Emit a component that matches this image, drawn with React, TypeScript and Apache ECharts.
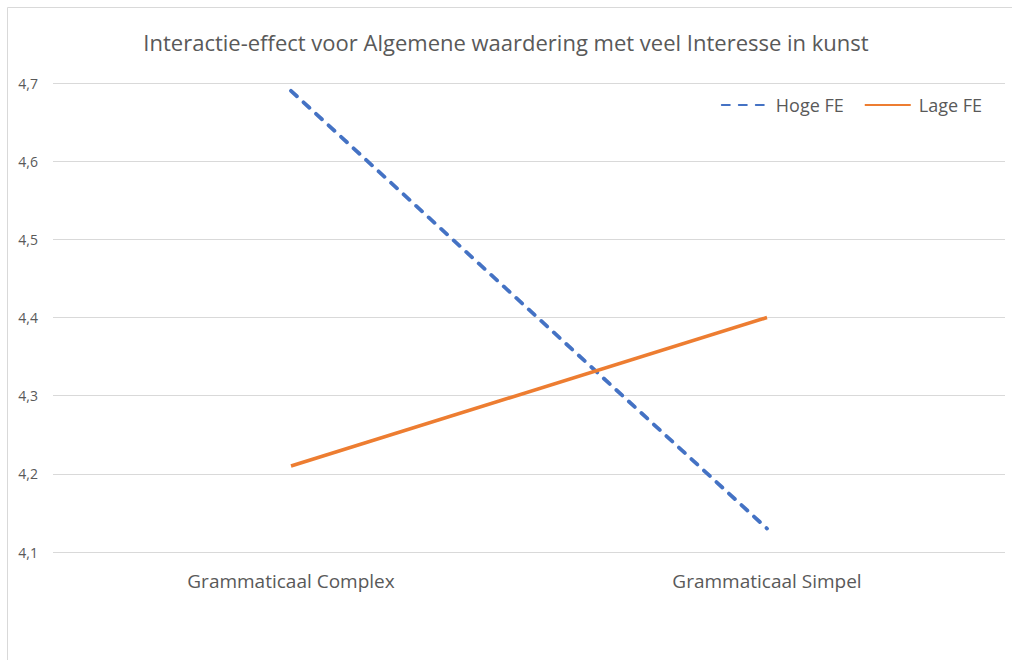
import React, { useEffect, useRef } from "react";
import * as echarts from "echarts";

const title = "Interactie-effect voor Algemene waardering met veel Interesse in kunst";
const categories = ["Grammaticaal Complex", "Grammaticaal Simpel"];
const hogeFE = [4.69, 4.13];
const lageFE = [4.21, 4.4];
const seriesNames = ["Hoge FE", "Lage FE"];

export default function App() {
  const ref = useRef<HTMLDivElement>(null);
  useEffect(() => {
    const chart = echarts.init(ref.current!, null, { renderer: "svg" });
    const font = "Open Sans";
    chart.setOption({
      animation: false,
      backgroundColor: "#ffffff",
      title: {
        text: title,
        left: "center",
        top: 26,
        textStyle: { fontFamily: font, fontSize: 22, fontWeight: "normal", color: "#595959" },
      },
      legend: {
        right: 25,
        top: 91,
        itemWidth: 46,
        itemHeight: 14,
        itemGap: 20,
        itemStyle: { opacity: 0 },
        textStyle: { fontFamily: font, fontSize: 18, color: "#595959", padding: [0, 0, 0, 3] },
        data: seriesNames,
      },
      grid: { left: 53, right: 7, top: 83, bottom: 108 },
      xAxis: {
        type: "category",
        data: categories,
        axisLine: { show: false },
        axisTick: { show: false },
        axisLabel: { fontFamily: font, fontSize: 19, color: "#595959", margin: 19 },
      },
      yAxis: {
        type: "value",
        min: 4.1,
        max: 4.7,
        interval: 0.1,
        axisLine: { show: false },
        axisTick: { show: false },
        splitLine: { lineStyle: { color: "#d9d9d9", width: 1 } },
        axisLabel: {
          fontFamily: font,
          fontSize: 14,
          color: "#595959",
          margin: 15,
          formatter: (v: number) => v.toFixed(1).replace(".", ","),
        },
      },
      graphic: [
        {
          type: "rect",
          silent: true,
          shape: { x: 7.5, y: 7.5, width: 1100, height: 700 },
          style: { fill: "none", stroke: "#d9d9d9", lineWidth: 1 },
        },
      ],
      series: [
        {
          name: seriesNames[0],
          type: "line",
          data: hogeFE,
          symbol: "none",
          lineStyle: { color: "#4472C4", width: 3.8, type: [8, 9], cap: "round" },
          itemStyle: { color: "#4472C4" },
        },
        {
          name: seriesNames[1],
          type: "line",
          data: lageFE,
          symbol: "none",
          lineStyle: { color: "#ED7D31", width: 3.5 },
          itemStyle: { color: "#ED7D31" },
        },
      ],
    });
    return () => chart.dispose();
  }, []);
  return (
    <div
      ref={ref}
      style={{ position: "fixed", left: 0, top: 0, width: 1012, height: 660 }}
    />
  );
}
